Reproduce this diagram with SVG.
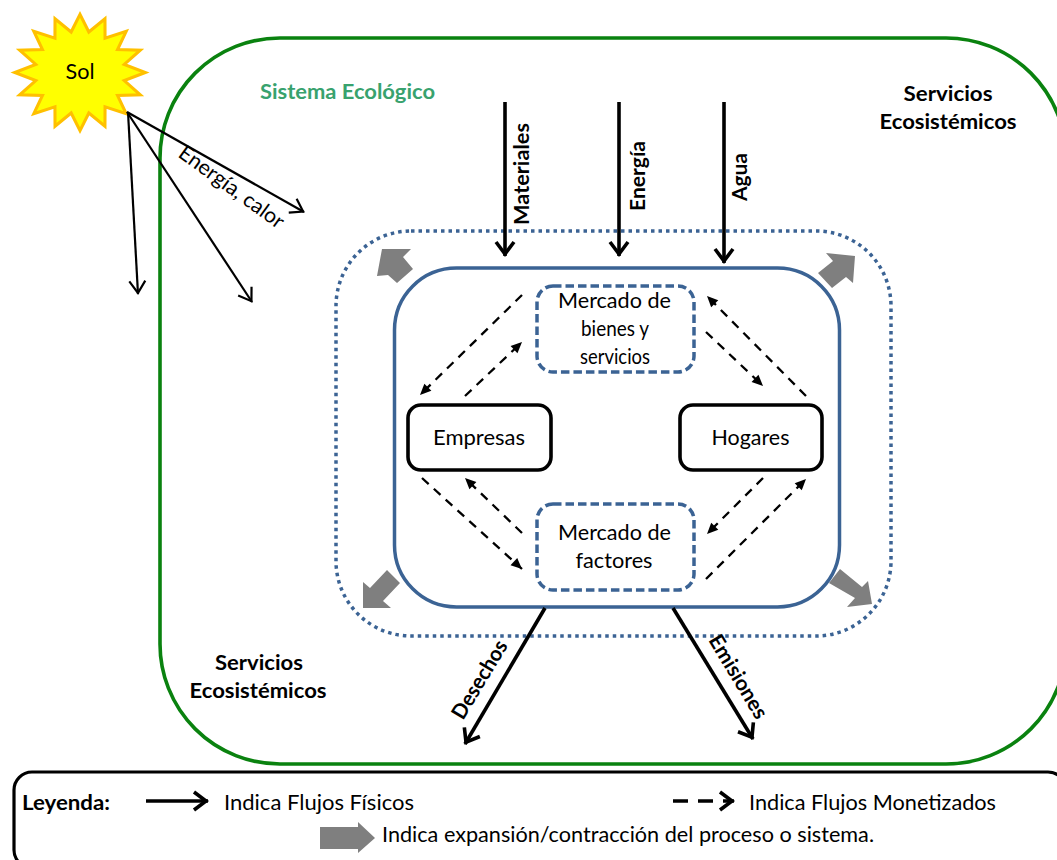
<svg xmlns="http://www.w3.org/2000/svg" width="1057" height="860" viewBox="0 0 1057 860">
<style>
text{font-family:Lato,"Liberation Sans",Arial,sans-serif;fill:#000;font-size:21px}
.m{text-anchor:middle}
.b{font-weight:bold}
.box{fill:#fff;stroke:#000;stroke-width:3.6}
.mk{fill:#fff;stroke:#3b6394;stroke-width:3.5;stroke-dasharray:8.500 4}
.thin{fill:none;stroke:#000;stroke-width:2.200;marker-end:url(#open)}
.thick{fill:none;stroke:#000;stroke-width:3.600;marker-end:url(#open2)}
.dash{fill:none;stroke:#000;stroke-width:2.300;stroke-dasharray:9 7;marker-end:url(#tri)}
.gr{fill:#7f7f7f}
</style>
<defs>
<marker id="open" markerUnits="userSpaceOnUse" markerWidth="20" markerHeight="20" refX="14" refY="8" orient="auto" overflow="visible"><path d="M1 0L13 8L1 16" fill="none" stroke="#000" stroke-width="2.200"/></marker>
<marker id="open2" markerUnits="userSpaceOnUse" markerWidth="24" markerHeight="24" refX="16" refY="9" orient="auto" overflow="visible"><path d="M2 0L14 9L2 18" fill="none" stroke="#000" stroke-width="3.600"/></marker>
<marker id="tri" markerUnits="userSpaceOnUse" markerWidth="14" markerHeight="14" refX="11" refY="5" orient="auto" overflow="visible"><path d="M0 0L11 5L0 10Z" fill="#000"/></marker>
</defs>

<g id="sistema-ecologico">
<rect x="160" y="38" width="906" height="726" rx="120" ry="120" fill="#fff" stroke="#0a820f" stroke-width="3.600"/>
<text x="347.500" y="99" class="m b" textLength="175" lengthAdjust="spacingAndGlyphs" style="fill:#38a26e">Sistema Ecológico</text>
</g>
<g id="servicios-1"><text x="948" y="101" class="m b" textLength="89" lengthAdjust="spacingAndGlyphs">Servicios</text><text x="948" y="129" class="m b" textLength="137" lengthAdjust="spacingAndGlyphs">Ecosistémicos</text></g>
<g id="servicios-2"><text x="259" y="670" class="m b" textLength="88" lengthAdjust="spacingAndGlyphs">Servicios</text><text x="258" y="698" class="m b" textLength="137" lengthAdjust="spacingAndGlyphs">Ecosistémicos</text></g>

<g id="sol">
<polygon transform="translate(80,72.500) scale(.96) translate(-80,-72.500)" points="148,72.5 126.1,80.9 142.8,95.7 119.1,96.4 128.1,115.3 106.1,108.2 106,128.4 89.2,114.7 80,133 70.8,114.7 54,128.4 53.9,108.2 31.9,115.3 40.9,96.4 17.2,95.7 33.9,80.9 12,72.5 33.9,64.1 17.2,49.3 40.9,48.6 31.9,29.7 53.9,36.8 54,16.6 70.8,30.3 80,12 89.2,30.3 106,16.6 106.1,36.8 128.1,29.7 119.1,48.6 142.8,49.3 126.1,64.1" fill="#ffff00" stroke="#ffc000" stroke-width="3.200"/>
<text x="80" y="79" class="m" textLength="29" lengthAdjust="spacingAndGlyphs">Sol</text>
</g>

<g id="sistema-economico">
<rect x="336" y="231" width="555" height="405" rx="75" ry="75" fill="none" stroke="#3b6394" stroke-width="3.500" stroke-dasharray="3.500 4"/>
<rect x="394.500" y="268" width="445" height="339" rx="62" ry="62" fill="#fff" stroke="#3b6394" stroke-width="3.500"/>
</g>

<g id="expansion">
<polygon class="gr" points="413,269 397,283 388,275 377,276 382,249 411,249 403,257"/>
<polygon class="gr" points="818,273 832,288 846,277 853,283 855,256 826,253 833,261"/>
<polygon class="gr" points="387,570 400,583 383,601 391,608 363,608 363,582 370,588"/>
<polygon class="gr" points="840,569 829,583 855,598 847,607 872,604 868,581 862,587"/>
</g>

<g id="mercado-bienes"><rect class="mk" x="537" y="286" width="157" height="86" rx="16"/>
<text x="614.500" y="308" class="m" textLength="113" lengthAdjust="spacingAndGlyphs">Mercado de</text><text x="615" y="336" class="m" textLength="68" lengthAdjust="spacingAndGlyphs">bienes y</text><text x="615" y="364" class="m" textLength="70" lengthAdjust="spacingAndGlyphs">servicios</text></g>
<g id="mercado-factores"><rect class="mk" x="537" y="504" width="157" height="86" rx="16"/>
<text x="614.500" y="540" class="m" textLength="113" lengthAdjust="spacingAndGlyphs">Mercado de</text><text x="614" y="568" class="m" textLength="77" lengthAdjust="spacingAndGlyphs">factores</text></g>
<g id="empresas"><rect class="box" x="408" y="405" width="143" height="65" rx="13"/><text x="479" y="445" class="m" textLength="92" lengthAdjust="spacingAndGlyphs">Empresas</text></g>
<g id="hogares"><rect class="box" x="680" y="405" width="142" height="65" rx="13"/><text x="750.500" y="445" class="m" textLength="78" lengthAdjust="spacingAndGlyphs">Hogares</text></g>

<g id="conectores">
<path class="thin" d="M127 112L304 212"/>
<path class="thin" d="M127 112L252 302"/>
<path class="thin" d="M128 112L138 294"/>
<path class="thick" d="M505 102V256"/>
<path class="thick" d="M619 102V256"/>
<path class="thick" d="M724 102V263"/>
<path class="thick" d="M545 608L465 744"/>
<path class="thick" d="M673 608L753 739"/>
<path class="dash" d="M522 295L420 395"/>
<path class="dash" d="M465 396L522 342"/>
<path class="dash" d="M706 332L763 386"/>
<path class="dash" d="M806 396L707 296"/>
<path class="dash" d="M422 478L522 569"/>
<path class="dash" d="M522 533L465 478"/>
<path class="dash" d="M763 478L707 534"/>
<path class="dash" d="M706 579L806 479"/>
</g>

<g id="etiquetas">
<text transform="translate(529,225) rotate(-90)" class="b" textLength="102" lengthAdjust="spacingAndGlyphs">Materiales</text>
<text transform="translate(645,211) rotate(-90)" class="b" textLength="70" lengthAdjust="spacingAndGlyphs">Energía</text>
<text transform="translate(747,201) rotate(-90)" class="b" textLength="48" lengthAdjust="spacingAndGlyphs">Agua</text>
<text transform="translate(177,156) rotate(36)" textLength="125" lengthAdjust="spacingAndGlyphs">Energía, calor</text>
<text transform="translate(463,721) rotate(-59)" class="b" textLength="88" lengthAdjust="spacingAndGlyphs">Desechos</text>
<text transform="translate(708,640) rotate(59)" class="b" textLength="94" lengthAdjust="spacingAndGlyphs">Emisiones</text>
</g>

<g id="leyenda">
<rect x="14" y="772" width="1052" height="96" rx="18" fill="#fff" stroke="#000" stroke-width="3.200"/>
<text x="22" y="810" class="b" textLength="88" lengthAdjust="spacingAndGlyphs">Leyenda:</text>
<path d="M146 801H208" fill="none" stroke="#000" stroke-width="3.600" marker-end="url(#open2)"/>
<text x="224" y="810" textLength="190" lengthAdjust="spacingAndGlyphs">Indica Flujos  Físicos</text>
<path d="M673 801H734" fill="none" stroke="#000" stroke-width="3.600" stroke-dasharray="15 10" marker-end="url(#open2)"/>
<text x="749" y="810" textLength="247" lengthAdjust="spacingAndGlyphs">Indica Flujos Monetizados</text>
<polygon class="gr" points="320,827 358,827 358,822 375,838 358,853 358,849 320,849"/>
<text x="382" y="842" textLength="492" lengthAdjust="spacingAndGlyphs">Indica expansión/contracción del proceso o sistema.</text>
</g>
</svg>
